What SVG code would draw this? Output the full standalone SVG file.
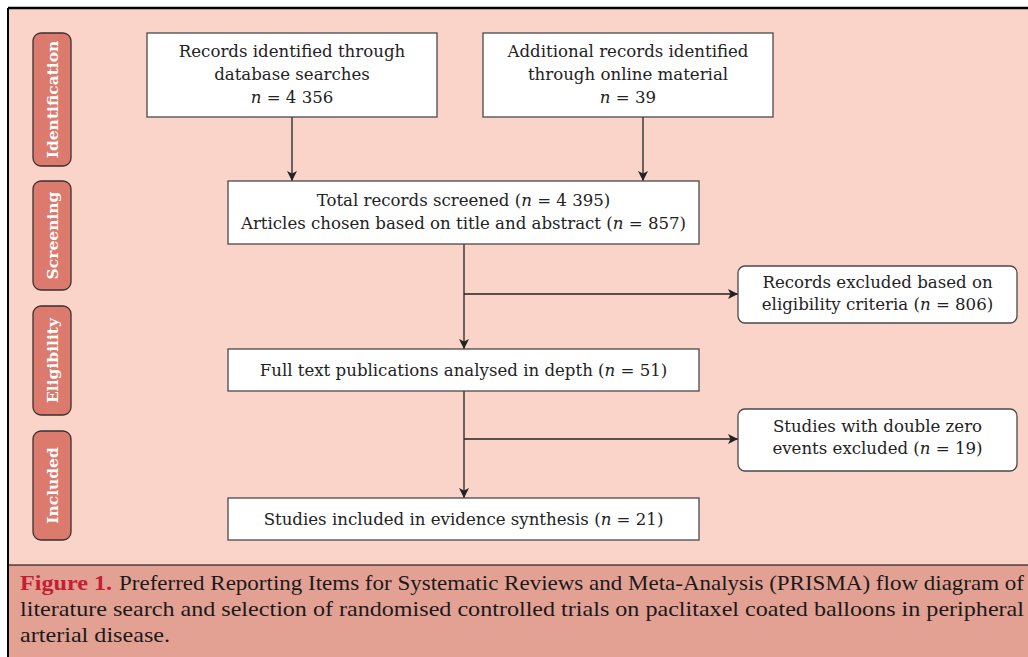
<svg xmlns="http://www.w3.org/2000/svg" width="1028" height="657" viewBox="0 0 1028 657">
<defs>
<style>
.box{fill:#ffffff;stroke:#4a4a4a;stroke-width:1.3}
.stage{fill:#dc7a6e;stroke:#3a3030;stroke-width:1.3}
.t{font-family:"DejaVu Serif","Liberation Serif",serif;font-size:16.6px;fill:#222;text-anchor:middle}
.st{font-family:"DejaVu Serif","Liberation Serif",serif;font-size:15.5px;font-weight:bold;fill:#fff;text-anchor:middle}
.cap{font-family:"Liberation Serif","DejaVu Serif",serif;font-size:21px;fill:#1a1a1a}
.i{font-style:italic}
.c{fill:none;stroke:#222;stroke-width:1.3}
</style>
<marker id="ah" viewBox="0 0 10 10" refX="10" refY="5" markerWidth="10" markerHeight="10" markerUnits="userSpaceOnUse" orient="auto">
<path d="M0,0 L10,5 L0,10 L2.5,5 z" fill="#222"/>
</marker>
</defs>
<rect x="0" y="0" width="1028" height="657" fill="#ffffff"/>
<rect x="8" y="8" width="1020" height="557" fill="#fad3c9"/>
<rect x="8" y="565" width="1020" height="92" fill="#e3a194"/>
<line x1="8" y1="8" x2="1028" y2="8" stroke="#000" stroke-width="2.5"/>
<line x1="8" y1="8" x2="8" y2="657" stroke="#000" stroke-width="2"/>
<line x1="8" y1="565" x2="1028" y2="565" stroke="#000" stroke-width="1.2"/>

<g id="stage-identification">
<rect class="stage" x="33" y="33" width="38" height="133" rx="8"/>
<text class="st" transform="translate(57.5,99.5) rotate(-90)">Identification</text>
</g>
<g id="stage-screening">
<rect class="stage" x="33" y="181" width="38" height="109" rx="8"/>
<text class="st" transform="translate(57.5,235.5) rotate(-90)">Screening</text>
</g>
<g id="stage-eligibility">
<rect class="stage" x="33" y="306" width="38" height="109" rx="8"/>
<text class="st" transform="translate(57.5,360.5) rotate(-90)">Eligibility</text>
</g>
<g id="stage-included">
<rect class="stage" x="33" y="431" width="38" height="109" rx="8"/>
<text class="st" transform="translate(57.5,485.5) rotate(-90)">Included</text>
</g>

<g id="connectors">
<line class="c" x1="292" y1="117" x2="292" y2="181" marker-end="url(#ah)"/>
<line class="c" x1="643" y1="117" x2="643" y2="181" marker-end="url(#ah)"/>
<line class="c" x1="464" y1="244" x2="464" y2="349" marker-end="url(#ah)"/>
<line class="c" x1="464" y1="294" x2="738" y2="294" marker-end="url(#ah)"/>
<line class="c" x1="464" y1="391" x2="464" y2="498" marker-end="url(#ah)"/>
<line class="c" x1="464" y1="439" x2="738" y2="439" marker-end="url(#ah)"/>
</g>

<g id="node-database">
<rect class="box" x="147" y="33" width="290" height="84"/>
<text class="t" x="292" y="57">Records identified through</text>
<text class="t" x="292" y="80">database searches</text>
<text class="t" x="292" y="103"><tspan class="i">n</tspan> = 4 356</text>
</g>
<g id="node-online">
<rect class="box" x="483" y="33" width="290" height="84"/>
<text class="t" x="628" y="57">Additional records identified</text>
<text class="t" x="628" y="80">through online material</text>
<text class="t" x="628" y="103"><tspan class="i">n</tspan> = 39</text>
</g>
<g id="node-screened">
<rect class="box" x="228" y="181" width="471" height="63"/>
<text class="t" x="463.5" y="206">Total records screened (<tspan class="i">n</tspan> = 4 395)</text>
<text class="t" x="463.5" y="229">Articles chosen based on title and abstract (<tspan class="i">n</tspan> = 857)</text>
</g>
<g id="node-excluded-eligibility">
<rect class="box" x="738" y="266" width="279" height="57" rx="7"/>
<text class="t" x="877.5" y="288">Records excluded based on</text>
<text class="t" x="877.5" y="310">eligibility criteria (<tspan class="i">n</tspan> = 806)</text>
</g>
<g id="node-fulltext">
<rect class="box" x="228" y="349" width="471" height="42"/>
<text class="t" x="463.5" y="376">Full text publications analysed in depth (<tspan class="i">n</tspan> = 51)</text>
</g>
<g id="node-excluded-zero">
<rect class="box" x="738" y="409" width="279" height="62" rx="7"/>
<text class="t" x="877.5" y="432">Studies with double zero</text>
<text class="t" x="877.5" y="454">events excluded (<tspan class="i">n</tspan> = 19)</text>
</g>
<g id="node-included">
<rect class="box" x="228" y="498" width="471" height="42"/>
<text class="t" x="463.5" y="525">Studies included in evidence synthesis (<tspan class="i">n</tspan> = 21)</text>
</g>

<g id="caption">
<text class="cap" x="20" y="590" textLength="92" lengthAdjust="spacingAndGlyphs" style="fill:#c41e33;font-weight:bold">Figure 1.</text>
<text class="cap" x="119" y="590" textLength="905" lengthAdjust="spacingAndGlyphs">Preferred Reporting Items for Systematic Reviews and Meta-Analysis (PRISMA) flow diagram of</text>
<text class="cap" x="20" y="616" textLength="1004" lengthAdjust="spacingAndGlyphs">literature search and selection of randomised controlled trials on paclitaxel coated balloons in peripheral</text>
<text class="cap" x="20" y="642" textLength="150" lengthAdjust="spacingAndGlyphs">arterial disease.</text>
</g>
</svg>
